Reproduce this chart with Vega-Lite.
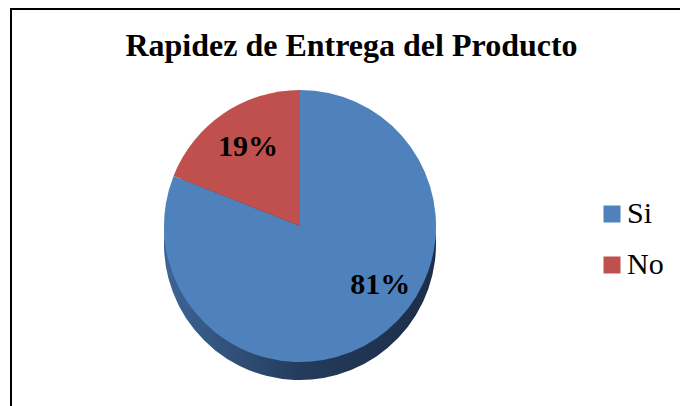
{
  "$schema": "https://vega.github.io/schema/vega-lite/v6.json",
  "width": 675,
  "height": 402,
  "autosize": "none",
  "padding": {"left": 11, "top": 9, "right": 0, "bottom": 0},
  "background": "white",
  "config": {"view": {"stroke": null}, "font": "Liberation Serif"},
  "title": {
    "text": "Rapidez de Entrega del Producto",
    "font": "Liberation Serif",
    "fontSize": 32,
    "fontWeight": "bold",
    "color": "black",
    "anchor": "middle",
    "frame": "group",
    "dx": 3,
    "baseline": "alphabetic",
    "offset": -80
  },
  "data": {"values": [
    {"respuesta": "Si", "porcentaje": 81, "etiqueta": "81%"},
    {"respuesta": "No", "porcentaje": 19, "etiqueta": "19%"}
  ]},
  "layer": [
    {
      "data": {"values": [{"marco": 1}]},
      "mark": {"type": "rect", "filled": false, "stroke": "black", "strokeWidth": 2},
      "encoding": {}
    },
    {
      "mark": {
        "type": "arc",
        "radius": 136,
        "xOffset": -48.5,
        "yOffset": 34,
        "color": {
          "gradient": "linear", "x1": 0, "x2": 1, "y1": 0, "y2": 0,
          "stops": [
            {"offset": 0, "color": "#3D6596"},
            {"offset": 0.5, "color": "#243B5C"},
            {"offset": 1, "color": "#1C2E48"}
          ]
        }
      },
      "encoding": {
        "theta": {"field": "porcentaje", "type": "quantitative", "stack": true},
        "order": {"field": "respuesta", "sort": "descending"}
      }
    },
    {
      "mark": {"type": "arc", "radius": 136, "xOffset": -48.5, "yOffset": 16},
      "encoding": {
        "theta": {"field": "porcentaje", "type": "quantitative", "stack": true},
        "order": {"field": "respuesta", "sort": "descending"},
        "color": {
          "field": "respuesta",
          "type": "nominal",
          "scale": {"domain": ["Si", "No"], "range": ["#4F81BD", "#C0504D"]},
          "legend": {
            "title": null,
            "orient": "none",
            "legendX": 586,
            "legendY": 190,
            "padding": 0,
            "symbolType": "square",
            "symbolSize": 289,
            "symbolStrokeWidth": 0,
            "symbolOpacity": 1,
            "labelFont": "Liberation Serif",
            "labelFontSize": 30,
            "labelColor": "black",
            "labelOffset": 0,
            "rowPadding": 21
          }
        }
      }
    },
    {
      "mark": {"type": "text", "radius": 96, "xOffset": -46.5, "yOffset": 16, "font": "Liberation Serif", "fontSize": 30, "fontWeight": "bold", "color": "black"},
      "encoding": {
        "theta": {"field": "porcentaje", "type": "quantitative", "stack": true},
        "order": {"field": "respuesta", "sort": "descending"},
        "text": {"field": "etiqueta"},
        "opacity": {"condition": {"test": "datum.respuesta === 'No'", "value": 1}, "value": 0}
      }
    },
    {
      "mark": {"type": "text", "radius": 100, "xOffset": -24.5, "yOffset": -8, "font": "Liberation Serif", "fontSize": 30, "fontWeight": "bold", "color": "black"},
      "encoding": {
        "theta": {"field": "porcentaje", "type": "quantitative", "stack": true},
        "order": {"field": "respuesta", "sort": "descending"},
        "text": {"field": "etiqueta"},
        "opacity": {"condition": {"test": "datum.respuesta === 'Si'", "value": 1}, "value": 0}
      }
    }
  ]
}
